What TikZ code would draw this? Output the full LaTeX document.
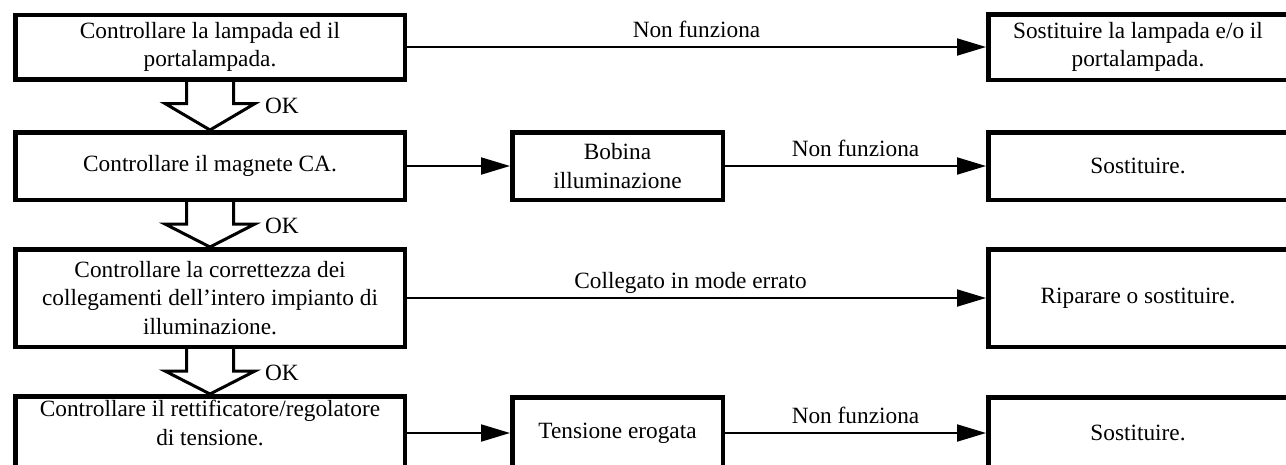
\documentclass[tikz,border=0pt]{standalone}
\usepackage{fontspec}
\setmainfont{Liberation Serif}
\usetikzlibrary{arrows.meta,calc}
\begin{document}
\begin{tikzpicture}[x=1pt,y=-1pt,
  txt/.style={font=\fontsize{23.3}{28.5}\selectfont},
  box/.style={draw, line width=4.5pt, align=center, inner sep=0pt, txt},
  leftbox/.style={box, minimum width=389.5pt},
  midbox/.style={box, minimum width=210.5pt},
  rightbox/.style={box, minimum width=299.5pt},
  conn/.style={line width=2pt, -{Triangle[length=29pt,width=17pt]}},
  hollow/.style={line width=3pt, line join=miter},
  lbl/.style={txt, inner sep=0pt, anchor=base, yshift=10pt},
  oklbl/.style={txt, inner sep=0pt}]
\useasboundingbox (0,0) rectangle (1286,464);
% left column
\node[leftbox, minimum height=64.5pt] (L1) at (210,47) {Controllare la lampada ed il\\portalampada.};
\node[leftbox, minimum height=67.5pt] (L2) at (210,166) {Controllare il magnete CA.};
\node[leftbox, minimum height=97.5pt] (L3) at (210,298) {Controllare la correttezza dei\\collegamenti dell’intero impianto di\\illuminazione.};
\node[leftbox, minimum height=73.5pt] (L4) at (210,433) {};
\node[txt, align=center, inner sep=0pt, anchor=north] (L4t) at (210,400) {Controllare il rettificatore/regolatore\\di tensione.};
% middle column
\node[midbox, minimum height=67.5pt] (M2) at (617.5,166) {Bobina\\illuminazione};
\node[midbox, minimum height=71.5pt] (M4) at (617.5,433) {Tensione erogata};
% right column
\node[rightbox, minimum height=65.5pt] (R1) at (1138,47) {Sostituire la lampada e/o il\\portalampada.};
\node[rightbox, minimum height=67.5pt] (R2) at (1138,166) {Sostituire.};
\node[rightbox, minimum height=97.5pt] (R3) at (1138,298) {Riparare o sostituire.};
\node[rightbox, minimum height=71.5pt] (R4) at (1138,433) {Sostituire.};
% connectors
\draw[conn] (L1.east) -- node[lbl] (t1) {Non funziona} (R1.west);
\draw[conn] (L2.east) -- (M2.west);
\draw[conn] (M2.east) -- node[lbl] (t2) {Non funziona} (R2.west);
\draw[conn] (L3.east) -- node[lbl, xshift=-6pt] (t3) {Collegato in mode errato} (R3.west);
\draw[conn] (L4.east) -- (M4.west);
\draw[conn] (M4.east) -- node[lbl] (t4) {Non funziona} (R4.west);
% hollow OK arrows
\foreach \a/\b in {L1/L2, L2/L3, L3/L4} {
  \draw[hollow] ([xshift=-23.5pt]\a.south) -- ([xshift=-23.5pt,yshift=-22pt]\a.south)
    -- ([xshift=-45pt,yshift=-22pt]\a.south) -- (\b.north)
    -- ([xshift=45pt,yshift=-22pt]\a.south) -- ([xshift=23.5pt,yshift=-22pt]\a.south)
    -- ([xshift=23.5pt]\a.south);
  \node[oklbl] (ok\a) at ([xshift=72pt,yshift=-24pt]\a.south) {OK};
}
\end{tikzpicture}
\end{document}
